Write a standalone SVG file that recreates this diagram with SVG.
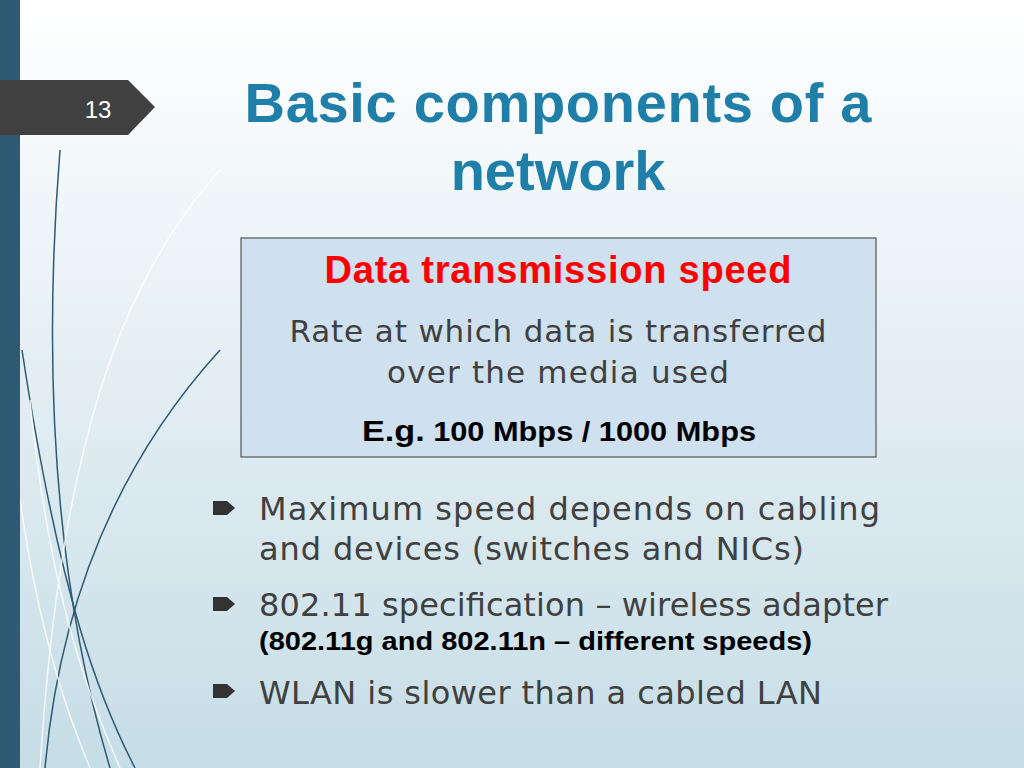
<svg xmlns="http://www.w3.org/2000/svg" width="1024" height="768" viewBox="0 0 1024 768">
<defs>
<linearGradient id="bg" x1="0" y1="0" x2="0" y2="1"><stop offset="0" stop-color="#ffffff"/><stop offset="1" stop-color="#c6dde6"/></linearGradient>
<style>
.t{font-family:"DejaVu Sans","Liberation Sans",sans-serif;fill:#404040}
.b{font-family:"Liberation Sans",sans-serif;font-weight:bold;fill:#000}
.d{fill:none;stroke:#2e5a74;stroke-width:1.5}
.l{fill:none;stroke:#ffffff;stroke-width:1.5;opacity:.8}
</style>
<path id="bul" d="M0 0h14l8 7l-8 7h-14z" fill="#333"/>
</defs>
<rect width="1024" height="768" fill="url(#bg)"/>
<g>
<path class="d" d="M22 350 C 60 600 100 700 135 768"/>
<path class="d" d="M60 150 C 40 400 60 600 110 768"/>
<path class="d" d="M220 350 C 120 460 60 600 45 768"/>
<path class="l" d="M220 170 C 120 280 60 450 40 768"/>
<path class="l" d="M30 400 C 50 600 90 700 120 768"/>
<path class="l" d="M20 500 C 40 640 70 720 90 768"/>
</g>
<rect x="0" y="0" width="20" height="768" fill="#2e5a74"/>
<g id="pagenum"><path d="M0 80H128L155 107L128 135H0Z" fill="#404040"/>
<text x="98" y="118" font-family="Liberation Sans,sans-serif" font-size="24" fill="#fff" text-anchor="middle">13</text></g>
<g id="title" font-family="Liberation Sans,sans-serif" font-weight="bold" font-size="56" fill="#1f7fa8" text-anchor="middle">
<text x="558" y="122" textLength="627">Basic components of a</text>
<text x="558" y="190">network</text></g>
<g id="box">
<rect x="241" y="238" width="635" height="219" fill="#cfe0ef" stroke="#555" stroke-width="1.2"/>
<text x="558" y="283" font-family="Liberation Sans,sans-serif" font-weight="bold" font-size="38" fill="#ff0000" text-anchor="middle" textLength="467">Data transmission speed</text>
<text class="t" x="558" y="342" font-size="31" text-anchor="middle" textLength="537">Rate at which data is transferred</text>
<text class="t" x="558" y="383" font-size="31" text-anchor="middle" textLength="342">over the media used</text>
<text class="b" x="559" y="441" font-size="27" text-anchor="middle" textLength="394" lengthAdjust="spacingAndGlyphs"><tspan font-size="30">E.g.</tspan> 100 Mbps / 1000 Mbps</text>
</g>
<g id="bullets">
<use href="#bul" x="213" y="501"/>
<text class="t" x="259" y="520" font-size="32" textLength="621">Maximum speed depends on cabling</text>
<text class="t" x="259" y="560" font-size="32" textLength="545">and devices (switches and NICs)</text>
<use href="#bul" x="213" y="597"/>
<text class="t" x="259" y="616" font-size="32" textLength="629">802.11 specification – wireless adapter</text>
<text class="b" x="259" y="650" font-size="26" textLength="553" lengthAdjust="spacingAndGlyphs">(802.11g and 802.11n – different speeds)</text>
<use href="#bul" x="213" y="684"/>
<text class="t" x="259" y="704" font-size="32" textLength="563">WLAN is slower than a cabled LAN</text>
</g>
</svg>
